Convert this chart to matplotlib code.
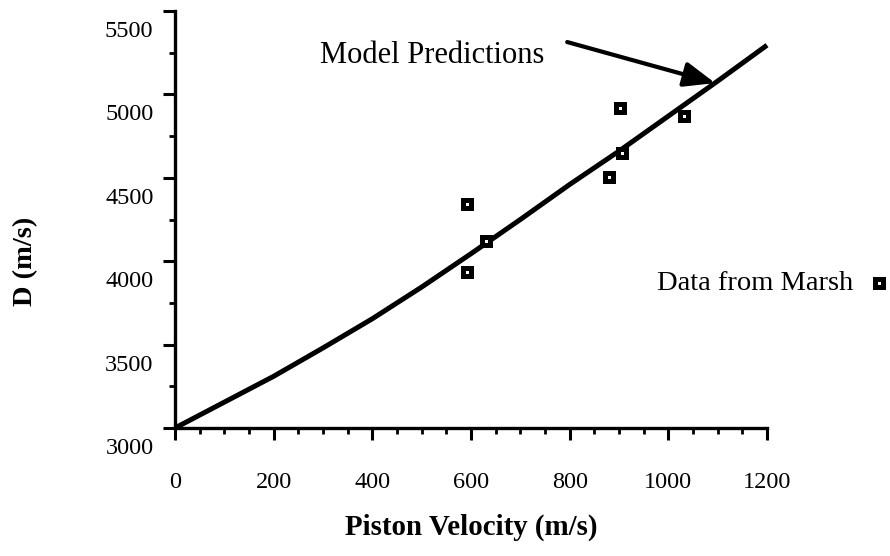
import matplotlib
matplotlib.use('Agg')
import matplotlib.pyplot as plt
import matplotlib.transforms as mtransforms
from matplotlib.ticker import MultipleLocator

plt.rcParams['font.family'] = ['Liberation Serif', 'DejaVu Serif']

# Model prediction curve
model_v = [0, 200, 300, 400, 500, 600, 700, 800, 900, 1000, 1100, 1200]
model_d = [3000, 3310, 3480, 3655, 3845, 4045, 4250, 4460, 4660, 4870, 5080, 5295]

# Data from Marsh
marsh_v = [591, 591, 630, 879, 902, 907, 1032]
marsh_d = [3934, 4343, 4123, 4507, 4920, 4650, 4872]

x_ticks = [0, 200, 400, 600, 800, 1000, 1200]
y_ticks = [3000, 3500, 4000, 4500, 5000, 5500]

fig = plt.figure(figsize=(8.9, 5.56), dpi=100)
ax = fig.add_axes([0.1966, 0.2302, 0.6652, 0.75])

ax.plot(model_v, model_d, color='black', lw=3.6, solid_capstyle='butt',
        solid_joinstyle='round', clip_on=False)
ax.plot(marsh_v, marsh_d, ls='none', marker='s', ms=6.2, mew=3.6,
        mfc='white', mec='black', clip_on=False, zorder=5)

ax.set_xlim(0, 1200)
ax.set_ylim(3000, 5500)
ax.set_xticks(x_ticks)
ax.set_yticks(y_ticks)
ax.xaxis.set_minor_locator(MultipleLocator(50))
ax.yaxis.set_minor_locator(MultipleLocator(250))

for side in ['top', 'right']:
    ax.spines[side].set_visible(False)
for side in ['left', 'bottom']:
    ax.spines[side].set_linewidth(2.4)

ax.tick_params(axis='both', which='major', direction='out', length=8.5, width=2.2, labelsize=17.5)
ax.tick_params(axis='both', which='minor', direction='out', length=4.5, width=2.0)
ax.tick_params(axis='x', which='major', pad=23)
ax.tick_params(axis='y', which='major', pad=7)

# y labels sit a bit below their ticks in the original
offset = mtransforms.ScaledTranslation(0, -18 / 100, fig.dpi_scale_trans)
for lab in ax.get_yticklabels():
    lab.set_transform(lab.get_transform() + offset)

fig.text(471 / 890, 1 - 527 / 556, 'Piston Velocity (m/s)', fontsize=20.8,
         fontweight='bold', ha='center', va='center')
fig.text(26 / 890, 1 - 261 / 556, 'D (m/s)', fontsize=20.5, fontweight='bold',
         rotation=90, ha='center', va='center')

ax.text(294, 5236, 'Model Predictions', fontsize=22, ha='left', va='center')
ax.annotate('', xy=(1095, 5068), xytext=(795, 5314),
            arrowprops=dict(arrowstyle='-|>,head_length=0.95,head_width=0.38',
                            mutation_scale=20, lw=3, color='black',
                            shrinkA=0, shrinkB=0),
            annotation_clip=False)

ax.text(977, 3869, 'Data from Marsh', fontsize=20.5, ha='left', va='center', clip_on=False)
ax.plot([1427], [3869], ls='none', marker='s', ms=6.2, mew=3.6,
        mfc='white', mec='black', clip_on=False)

fig.savefig('out.png', dpi=100)
